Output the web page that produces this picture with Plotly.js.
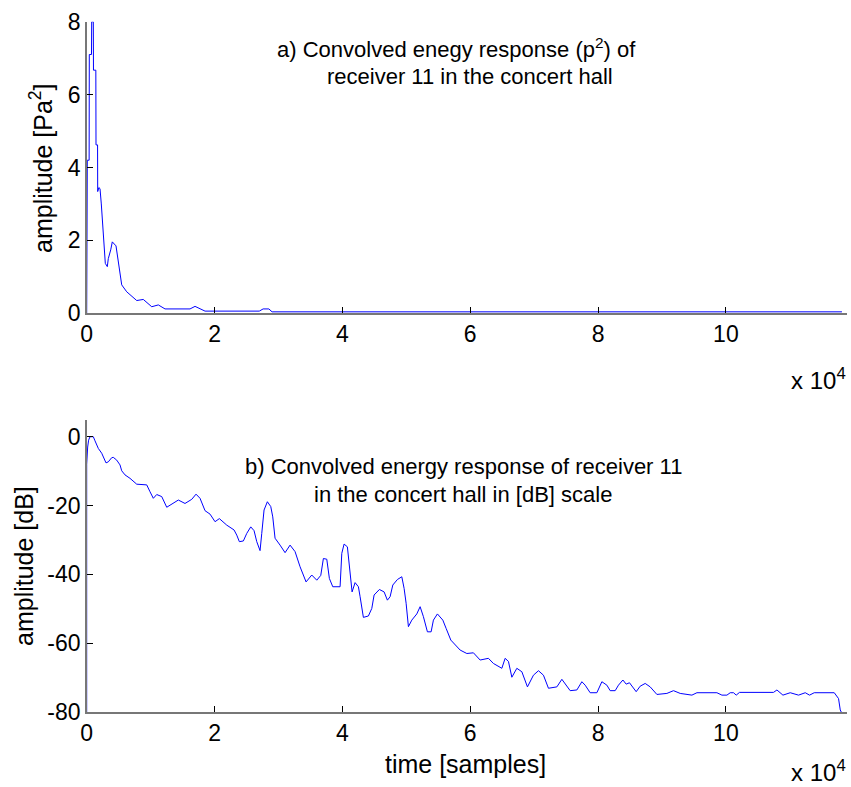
<!DOCTYPE html>
<html>
<head>
<meta charset="utf-8">
<script src="https://cdn.plot.ly/plotly-3.0.1.min.js"></script>
<style>html,body{margin:0;padding:0;background:#fff;}#chart{width:851px;height:787px;}</style>
</head>
<body>
<div id="chart"></div>
<script>
// ---- data: (a) energy response p^2 [Pa^2] vs time [samples]
const energyTime = [0, 30, 90, 94, 380, 407, 750, 783, 1033, 1060, 1430, 1455, 1700, 1721, 1900, 2081, 2285, 2598, 2911, 3224, 3380, 3756, 4006, 4585, 5102, 5478, 6260, 7825, 8858, 10173, 11205, 12254, 16166, 16949, 18514, 27000, 27600, 28500, 29000, 118157];
const energyValue = [0, 1.2, 1.2, 4.2, 4.2, 7.1, 7.1, 8.0, 8.0, 6.67, 6.67, 4.62, 4.62, 3.34, 3.45, 3.42, 3.0, 2.0, 1.37, 1.28, 1.5, 1.74, 1.96, 1.85, 1.28, 0.78, 0.59, 0.35, 0.38, 0.18, 0.23, 0.12, 0.12, 0.19, 0.06, 0.06, 0.12, 0.12, 0.04, 0.04];

// ---- data: (b) energy response in dB vs time [samples]
const dbTime = [0, 0, 150, 300, 516, 1033, 1300, 1815, 2348, 3020, 3380, 3913, 4163, 4695, 5211, 5478, 5994, 6776, 7825, 9390, 9907, 10423, 10955, 11738, 12520, 13303, 14335, 15384, 16433, 17105, 17731, 18514, 19296, 20079, 20752, 21910, 23052, 23475, 23882, 24508, 25040, 25666, 26182, 26605, 27121, 27388, 27748, 28264, 28796, 29109, 29469, 30251, 31034, 31816, 32599, 33381, 34320, 35213, 35995, 36621, 37028, 37560, 37967, 38499, 39641, 39908, 40268, 40784, 41097, 41520, 41989, 42506, 42772, 43288, 44071, 44603, 44963, 45792, 46527, 47044, 47466, 47889, 48609, 49298, 49658, 49971, 50331, 50863, 51645, 52161, 52678, 53304, 53883, 54243, 54869, 55714, 56230, 56966, 58421, 59470, 60503, 61551, 62850, 63633, 64948, 65464, 65980, 66513, 67295, 68078, 68954, 69893, 70676, 71458, 72241, 73556, 74338, 75120, 75638, 76685, 77468, 77985, 78767, 79815, 80597, 81380, 81896, 82679, 83195, 83884, 84401, 84917, 85543, 85965, 86591, 87374, 88156, 89205, 90770, 91803, 92851, 94683, 95465, 98595, 99378, 100160, 100676, 101193, 101615, 102131, 107453, 107985, 108924, 110065, 111366, 112414, 113087, 113822, 116952, 117624, 117891, 118157];
const dbValue = [-80, -8, -3, -1, 0, 0, -1.2, -3.4, -4.8, -7.6, -7.3, -6.1, -6.0, -6.8, -8.2, -9.9, -11.1, -12.1, -13.8, -14.0, -16.0, -17.9, -16.8, -17.4, -20.5, -19.6, -18.4, -19.4, -18.2, -16.7, -17.9, -21.5, -22.5, -24.7, -23.8, -25.7, -27.1, -28.6, -30.5, -30.3, -28.1, -26.2, -27.3, -30.5, -33.1, -28.1, -21.3, -18.9, -20.3, -23.3, -29.5, -31.5, -33.7, -31.5, -33.4, -37.8, -42.2, -40.2, -41.7, -40.3, -35.4, -35.6, -41.2, -43.6, -43.6, -33.9, -31.2, -32.0, -37.3, -45.1, -42.4, -43.6, -46.5, -52.5, -52.1, -49.9, -46.0, -44.4, -45.1, -47.5, -46.5, -43.1, -41.5, -40.7, -44.1, -48.4, -55.2, -53.3, -51.5, -49.4, -52.3, -56.7, -56.7, -53.3, -51.5, -53.3, -55.7, -59.1, -62.0, -63.0, -62.8, -64.9, -64.4, -65.9, -67.3, -64.4, -65.3, -69.9, -67.3, -68.3, -72.7, -69.3, -68.0, -69.3, -73.1, -72.7, -70.5, -72.6, -73.8, -73.6, -71.2, -72.2, -74.4, -74.4, -71.2, -72.2, -73.8, -73.8, -72.2, -70.7, -71.9, -71.5, -72.9, -74.1, -72.5, -71.7, -72.7, -74.9, -74.6, -73.8, -74.6, -75.1, -74.4, -74.4, -75.1, -75.1, -74.4, -74.4, -75.1, -74.3, -74.3, -73.6, -75.1, -74.4, -75.1, -74.4, -75.1, -74.4, -74.4, -76.1, -79.4, -80.4];

// ---- tick labels
const xTickVals = [0, 20000, 40000, 60000, 80000, 100000];
const xTickText = ['0', '2', '4', '6', '8', '10'];
const yTopTickVals = [0, 2, 4, 6, 8];
const yTopTickText = ['0', '2', '4', '6', '8'];
const yBotTickVals = [-80, -60, -40, -20, 0];
const yBotTickText = ['-80', '-60', '-40', '-20', '0'];

// ---- texts
const titleA1 = 'a) Convolved enegy response (p<sup>2</sup>) of';
const titleA2 = 'receiver 11 in the concert hall';
const titleB1 = 'b) Convolved energy response of receiver 11';
const titleB2 = 'in the concert hall in [dB] scale';
const yTitleA = 'amplitude [Pa<sup>2</sup>]';
const yTitleB = 'amplitude [dB]';
const xTitleB = 'time [samples]';
const xScaleText = 'x 10<sup>4</sup>';

// ---- layout helpers (pixel -> paper)
const W = 851, H = 787;
const PX = x => x / W;
const PY = y => 1 - y / H;
const FONT = 'Liberation Sans, Arial, Helvetica, sans-serif';

const axisBase = {
  showgrid: false, zeroline: false, showline: true, linecolor: '#777', linewidth: 1.5,
  ticks: 'inside', ticklen: 6, tickwidth: 1, tickcolor: '#000',
  tickfont: {family: FONT, size: 23, color: '#000'}, mirror: false, fixedrange: true
};

const traces = [
  {x: energyTime, y: energyValue, type: 'scatter', mode: 'lines', xaxis: 'x', yaxis: 'y',
   line: {color: '#0000ff', width: 1}, hoverinfo: 'skip'},
  {x: dbTime, y: dbValue, type: 'scatter', mode: 'lines', xaxis: 'x2', yaxis: 'y2',
   line: {color: '#0000ff', width: 1}, hoverinfo: 'skip'}
];

function ann(text, x, y, opts) {
  return Object.assign({text: text, x: PX(x), y: PY(y), xref: 'paper', yref: 'paper',
    xanchor: 'center', yanchor: 'middle', showarrow: false,
    font: {family: FONT, size: 22, color: '#000'}}, opts || {});
}
const AXF = {family: FONT, size: 25, color: '#000'};
const SCF = {family: FONT, size: 24, color: '#000'};

const layout = {
  width: W, height: H,
  margin: {l: 0, r: 0, t: 0, b: 0},
  paper_bgcolor: '#fff', plot_bgcolor: '#fff',
  showlegend: false,
  xaxis: Object.assign({}, axisBase, {domain: [PX(86.7), PX(846.7)], range: [0, 118900],
    tickvals: xTickVals, ticktext: xTickText, anchor: 'y'}),
  yaxis: Object.assign({}, axisBase, {domain: [PY(313.3), PY(21.7)], range: [0, 8],
    tickvals: yTopTickVals, ticktext: yTopTickText, anchor: 'x'}),
  xaxis2: Object.assign({}, axisBase, {domain: [PX(86.7), PX(846.7)], range: [0, 118900],
    tickvals: xTickVals, ticktext: xTickText, anchor: 'y2'}),
  yaxis2: Object.assign({}, axisBase, {domain: [PY(712), PY(419.5)], range: [-80, 5],
    tickvals: yBotTickVals, ticktext: yBotTickText, anchor: 'x2'}),
  annotations: [
    ann(titleA1, 457, 48),
    ann(titleA2, 470, 76),
    ann(titleB1, 463, 466),
    ann(titleB2, 463, 494),
    ann(yTitleA, 41, 168, {textangle: -90, font: AXF}),
    ann(yTitleB, 24, 566, {textangle: -90, font: AXF}),
    ann(xTitleB, 465, 764, {font: AXF}),
    ann(xScaleText, 848, 379, {xanchor: 'right', font: SCF}),
    ann(xScaleText, 848, 771, {xanchor: 'right', font: SCF})
  ]
};

Plotly.newPlot('chart', traces, layout, {displayModeBar: false, staticPlot: true});
</script>
</body>
</html>
